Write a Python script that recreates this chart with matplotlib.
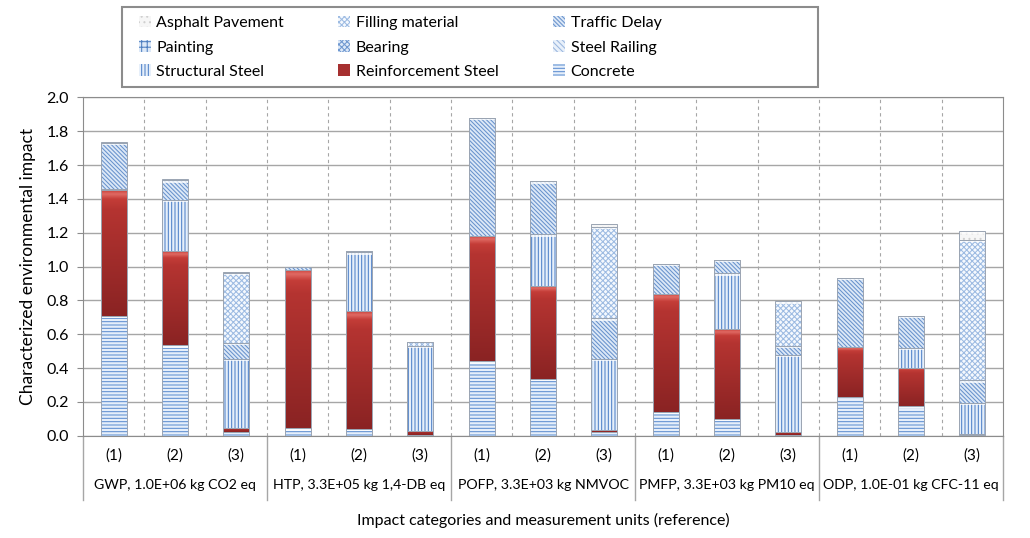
import matplotlib
matplotlib.use("Agg")
import matplotlib.pyplot as plt
import matplotlib.transforms as mtransforms
from matplotlib.patches import Patch, Rectangle
from matplotlib.colors import LinearSegmentedColormap
import numpy as np

plt.rcParams['font.family'] = ['Lato', 'DejaVu Sans']
plt.rcParams['hatch.linewidth'] = 0.75

groups = ["GWP, 1.0E+06 kg CO2 eq", "HTP, 3.3E+05 kg 1,4-DB eq", "POFP, 3.3E+03 kg NMVOC",
          "PMFP, 3.3E+03 kg PM10 eq", "ODP, 1.0E-01 kg CFC-11 eq"]
sub_labels = ["(1)", "(2)", "(3)"]

concrete      = [0.71, 0.535, 0.02, 0.045, 0.04, 0.005, 0.44, 0.335, 0.02, 0.14, 0.10, 0.005, 0.23, 0.175, 0.003]
reinforcement = [0.74, 0.555, 0.025, 0.935, 0.695, 0.025, 0.74, 0.55, 0.015, 0.70, 0.53, 0.02, 0.295, 0.225, 0.01]
structural    = [0.01, 0.305, 0.41, 0.0, 0.35, 0.50, 0.0, 0.305, 0.42, 0.0, 0.33, 0.455, 0.0, 0.12, 0.18]
steel_railing = [0.0] * 15
bearing       = [0.0] * 15
painting      = [0.0] * 15
traffic_delay = [0.27, 0.115, 0.095, 0.015, 0.005, 0.0, 0.70, 0.315, 0.24, 0.175, 0.08, 0.05, 0.41, 0.19, 0.135]
filling       = [0.0, 0.0, 0.415, 0.0, 0.0, 0.025, 0.0, 0.0, 0.54, 0.0, 0.0, 0.265, 0.0, 0.0, 0.83]
asphalt       = [0.005, 0.005, 0.005, 0.0, 0.0, 0.0, 0.0, 0.0, 0.015, 0.0, 0.0, 0.0, 0.0, 0.0, 0.05]

series = [
    ("Concrete", concrete, "#e6effa", "#5f8fd0", "-----"),
    ("Reinforcement Steel", reinforcement, "#a63030", "#a63030", None),
    ("Structural Steel", structural, "#e6effa", "#4f81c8", "|||||"),
    ("Steel Railing", steel_railing, "#e8f0fa", "#9ab6de", "\\" * 6),
    ("Bearing", bearing, "#dde9f8", "#6f98d0", "x" * 6),
    ("Painting", painting, "#dde9f8", "#4f7fc0", "+" * 3),
    ("Traffic Delay", traffic_delay, "#dce8f7", "#6892cc", "\\" * 8),
    ("Filling material", filling, "#f5f9fe", "#9dbbe2", "x" * 6),
    ("Asphalt Pavement", asphalt, "#f6f6f6", "#cfcfcf", "..."),
]

red_cmap = LinearSegmentedColormap.from_list(
    "redbevel", [(0.0, "#8a2323"), (0.85, "#b53431"), (0.93, "#c43d38"), (0.97, "#e06a63"), (1.0, "#c9423c")])

fig = plt.figure(figsize=(10.3, 5.38), dpi=100)
ax = fig.add_axes([0.0806, 0.190, 0.8932, 0.629])

n = len(concrete)
x = np.arange(n)
width = 0.42
bottom = np.zeros(n)
handles = {}
grad = np.linspace(0, 1, 256).reshape(-1, 1)
for name, vals, fc, hc, hatch in series:
    vals = np.array(vals)
    bars = ax.bar(x, vals, width, bottom=bottom, color=fc, edgecolor=hc, hatch=hatch,
                  linewidth=0, zorder=3)
    for r in bars:
        h = r.get_height()
        if h <= 0:
            continue
        x0, y0 = r.get_x(), r.get_y()
        if name == "Reinforcement Steel":
            im = ax.imshow(grad, cmap=red_cmap, origin="lower", aspect="auto",
                           extent=[x0, x0 + r.get_width(), y0, y0 + h],
                           zorder=3.5, interpolation="bilinear")
            im.set_clip_path(r)
        elif h > 0.03:
            ax.add_patch(Rectangle((x0, y0 + h - 0.014), r.get_width(), 0.014,
                                   facecolor="white", edgecolor="none", alpha=0.75, zorder=3.6))
    ax.bar(x, vals, width, bottom=bottom, fill=False, edgecolor="#9aa4b2",
           linewidth=0.7, zorder=4)
    handles[name] = Patch(facecolor=fc, edgecolor=hc, hatch=hatch, linewidth=0)
    bottom = bottom + vals

ax.set_xlim(-0.5, n - 0.5)
ax.set_ylim(0, 2.0)
ticks = np.arange(0, 2.01, 0.2)
ax.set_yticks(ticks)
ax.set_yticklabels([f"{v:.1f}" for v in ticks], fontsize=11.5)
ax.set_xticks([])
ax.yaxis.grid(True, color="#a6a6a6", linewidth=1.0, zorder=0)
for xv in np.arange(0.5, n - 0.5, 1.0):
    ax.axvline(xv, color="#a6a6a6", linestyle=(0, (3, 3)), linewidth=0.8, zorder=1)
for s in ax.spines.values():
    s.set_color("#8c8c8c")
ax.tick_params(axis="y", length=4, color="#8c8c8c", pad=6)
ax.set_ylabel("Characterized environmental impact", fontsize=12.5, labelpad=8)

trans = mtransforms.blended_transform_factory(ax.transData, ax.transAxes)
for i in range(n):
    ax.text(x[i], -0.057, sub_labels[i % 3], transform=trans, ha="center", va="center", fontsize=11)
for g, name in enumerate(groups):
    ax.text(3 * g + 1, -0.146, name, transform=trans, ha="center", va="center", fontsize=10.2)
for b in np.arange(-0.5, n, 3):
    ax.plot([b, b], [0, -0.19], transform=trans, color="#a6a6a6", linewidth=1.0, clip_on=False)
ax.text(0.5, -0.249, "Impact categories and measurement units (reference)", transform=ax.transAxes,
        ha="center", va="center", fontsize=11.5)

# legend frame (Excel-style wide box)
W, H = 1030.0, 538.0
fig.patches.append(Rectangle((122 / W, 1 - 87 / H), (818 - 122) / W, (87 - 7) / H,
                             transform=fig.transFigure, fill=False, edgecolor="#8c8c8c",
                             linewidth=1.5))
order = ["Asphalt Pavement", "Painting", "Structural Steel",
         "Filling material", "Bearing", "Reinforcement Steel",
         "Traffic Delay", "Steel Railing", "Concrete"]
leg = fig.legend([handles[k] for k in order], order, ncol=3, loc="upper left",
                 bbox_to_anchor=(126 / W, 1 - 3 / H), fontsize=11.5, frameon=False,
                 handlelength=0.75, handleheight=0.75, handletextpad=0.35, columnspacing=3.4,
                 labelspacing=0.62, borderpad=0.3)

fig.savefig("out.png", dpi=100)
